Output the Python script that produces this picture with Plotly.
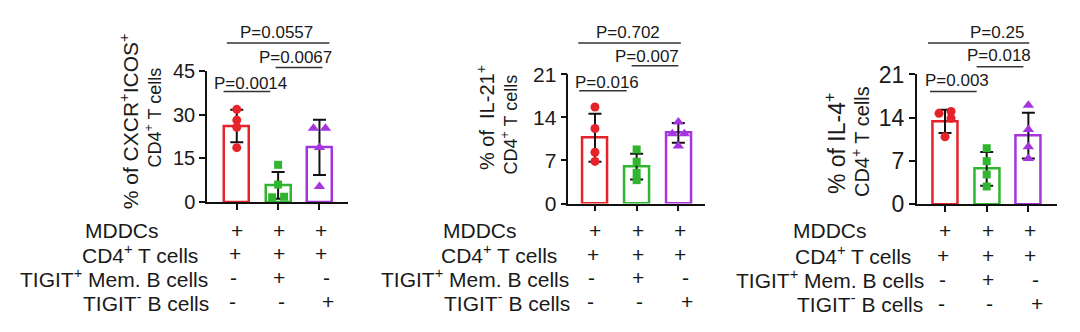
import plotly.graph_objects as go

W, H = 1080, 332

# ---------------- data ----------------
groups = ["Ctrl", "TIGIT+ Mem. B", "TIGIT- B"]

p1_points = [[31.9, 28.2, 25.7, 18.7], [12.8, 6.0, 1.8, 1.6], [25.4, 25.4, 18.8, 5.3]]
p1_mean = [26.2, 5.7, 18.8]
p1_sd = [5.6, 4.6, 9.5]

p2_points = [[15.7, 12.2, 8.35, 6.85], [8.8, 6.8, 5.0, 3.8], [13.25, 11.35, 11.35, 9.35]]
p2_mean = [10.7, 6.0, 11.5]
p2_sd = [3.9, 2.1, 1.6]

p3_points = [[15.0, 14.7, 13.9, 10.9], [9.05, 6.95, 4.8, 2.85], [16.0, 12.1, 9.3, 7.4]]
p3_mean = [13.4, 5.7, 11.1]
p3_sd = [1.9, 2.75, 3.7]

p1_ticks = [0, 15, 30, 45]
p2_ticks = [0, 7, 14, 21]
p3_ticks = [0, 7, 14, 21]

p1_title = ["% of CXCR<sup>+</sup>ICOS<sup>+</sup>", "CD4<sup>+</sup> T cells"]
p2_title = ["% of  IL-21<sup>+</sup>", "CD4<sup>+</sup> T cells"]
p3_title = ["% of IL-4<sup>+</sup>", "CD4<sup>+</sup> T cells"]

p1_pvals = ["P=0.0557", "P=0.0067", "P=0.0014"]
p2_pvals = ["P=0.702", "P=0.007", "P=0.016"]
p3_pvals = ["P=0.25", "P=0.018", "P=0.003"]

row_labels = ["MDDCs", "CD4<sup>+</sup> T cells", "TIGIT<sup>+</sup> Mem. B cells", "TIGIT<sup>-</sup> B cells"]
row_signs = [["+", "+", "+"], ["+", "+", "+"], ["-", "+", "-"], ["-", "-", "+"]]

# ---------------- styling / layout config ----------------
FONT = "Liberation Sans, Arial, sans-serif"
TXT = "#1a1a1a"
colors = ["#e5232a", "#2fb52f", "#a535dc"]
symbols = ["circle", "square", "triangle-up"]
msizes = [9, 8, 10]

panels = [
    dict(points=p1_points, mean=p1_mean, sd=p1_sd, ticks=p1_ticks, title=p1_title, pvals=p1_pvals,
         x0=207, x1=348, ytop=63.3, ybot=205, xr=(-0.72, 2.69), ymax=45, tsize=20,
         brackets=[(-0.24, 2.24, 54.8, 0.97, 11), (0.94, 2.07, 46.3, 1.41, 11), (-0.32, 0.81, 38.05, 0.32, 8.5)],
         titles=[(128.5, 118, 21), (153.5, 114, 18)],
         lab_off=[-46, -7, 3, 4], rows_y=[236, 261, 287, 313.5]),
    dict(points=p2_points, mean=p2_mean, sd=p2_sd, ticks=p2_ticks, title=p2_title, pvals=p2_pvals,
         x0=568.3, x1=705, ytop=66.7, ybot=206.7, xr=(-0.64, 2.64), ymax=21, tsize=21,
         brackets=[(-0.40, 2.06, 26.14, 0.80, 11.5), (0.88, 2.0, 22.4, 1.24, 10.5), (-0.38, 0.76, 18.35, 0.28, 9.5)],
         titles=[(485, 114, 20), (510.5, 121.5, 18)],
         lab_off=[-49, -9, 2.5, 3.5], rows_y=[236.5, 261.5, 287, 313.5]),
    dict(points=p3_points, mean=p3_mean, sd=p3_sd, ticks=p3_ticks, title=p3_title, pvals=p3_pvals,
         x0=916.7, x1=1056.7, ytop=66.7, ybot=207.3, xr=(-0.68, 2.68), ymax=21, tsize=23,
         brackets=[(-0.41, 2.02, 26.12, 1.24, 11.5), (0.76, 1.88, 22.24, 1.29, 12.5), (-0.36, 0.76, 18.25, 0.28, 12)],
         titles=[(834.5, 141.7, 23), (860, 140, 20)],
         lab_off=[-48, -4, 9, 8], rows_y=[236, 263, 289, 315]),
]
sign_shift = [[0, 1, 2], [-2, 1, 2], [-3, 1, 7], [-4, 3, 9]]


def swarm(vals, px_per_unit, step_px, thr=7.0, sep=12.0):
    """Cluster near-equal values and spread them horizontally (offsets in x units)."""
    order = sorted(range(len(vals)), key=lambda i: -vals[i])
    offs = [0.0] * len(vals)
    clusters, cur = [], [order[0]]
    for a, b in zip(order, order[1:]):
        if abs(vals[a] - vals[b]) * px_per_unit < thr:
            cur.append(b)
        else:
            clusters.append(cur)
            cur = [b]
    clusters.append(cur)
    for c in clusters:
        if len(c) > 1:
            for k, i in enumerate(c):
                offs[i] = (sep / 2 if k % 2 == 0 else -sep / 2) / step_px
    return offs


fig = go.Figure()
shapes, annots = [], []
layout_axes = {}

for n, P in enumerate(panels):
    sfx = "" if n == 0 else str(n + 1)
    xa, ya = "x" + sfx, "y" + sfx
    r0, r1 = P["xr"]
    step = (P["x1"] - P["x0"]) / (r1 - r0)
    ppu = (P["ybot"] - P["ytop"]) / P["ymax"]

    def xpx(v, P=P, r0=r0, step=step):
        return P["x0"] + (v - r0) * step

    def ypx(v, P=P, ppu=ppu):
        return P["ybot"] - v * ppu

    xs = list(range(len(groups)))
    fig.add_trace(go.Bar(
        x=xs, y=P["mean"], width=0.6, xaxis=xa, yaxis=ya,
        marker=dict(color="white", line=dict(color=colors, width=2.5)),
        error_y=dict(type="data", array=P["sd"], visible=True, color="#111111", thickness=2, width=6.5),
        showlegend=False, hoverinfo="skip"))
    for g in range(len(groups)):
        vals = P["points"][g]
        offs = swarm(vals, ppu, step)
        fig.add_trace(go.Scatter(
            x=[g + o for o in offs], y=vals, mode="markers", xaxis=xa, yaxis=ya,
            marker=dict(color=colors[g], symbol=symbols[g], size=msizes[g], line=dict(width=0)),
            showlegend=False, hoverinfo="skip", cliponaxis=False))

    layout_axes["xaxis" + sfx] = dict(
        domain=[P["x0"] / W, P["x1"] / W], range=list(P["xr"]), anchor=ya,
        tickvals=xs, showticklabels=False, ticks="outside", ticklen=6, tickwidth=1.5, tickcolor="#111",
        showline=True, linewidth=1.5, linecolor="#111", showgrid=False, zeroline=False, fixedrange=True)
    layout_axes["yaxis" + sfx] = dict(
        domain=[1 - P["ybot"] / H, 1 - P["ytop"] / H], range=[0, P["ymax"]], anchor=xa,
        tickvals=P["ticks"], ticks="outside", ticklen=6, tickwidth=1.5, tickcolor="#111",
        tickfont=dict(family=FONT, size=P["tsize"], color=TXT),
        showline=True, linewidth=1.5, linecolor="#111", showgrid=False, zeroline=False, fixedrange=True)

    # significance brackets
    for (bx0, bx1, by, tx, tsh), ptxt in zip(P["brackets"], P["pvals"]):
        shapes.append(dict(type="line", xref="paper", yref="paper",
                           x0=xpx(bx0) / W, x1=xpx(bx1) / W, y0=1 - ypx(by) / H, y1=1 - ypx(by) / H,
                           line=dict(color="#333333", width=1.5)))
        annots.append(dict(xref="paper", yref="paper", x=xpx(tx) / W, y=1 - (ypx(by) - tsh) / H,
                           text=ptxt, showarrow=False, xanchor="center", yanchor="middle",
                           font=dict(family=FONT, size=17, color=TXT)))

    # y titles (two rotated lines)
    for (cx, cy, fs), t in zip(P["titles"], P["title"]):
        annots.append(dict(xref="paper", yref="paper", x=cx / W, y=1 - cy / H, text=t,
                           textangle=-90, showarrow=False, xanchor="center", yanchor="middle",
                           font=dict(family=FONT, size=fs, color=TXT)))

    # condition table
    for r, lab in enumerate(row_labels):
        yy = 1 - P["rows_y"][r] / H
        annots.append(dict(xref="paper", yref="paper", x=(P["x0"] + P["lab_off"][r]) / W, y=yy,
                           text=lab, showarrow=False, xanchor="right", yanchor="middle",
                           font=dict(family=FONT, size=21, color=TXT)))
        for c, s in enumerate(row_signs[r]):
            annots.append(dict(xref="paper", yref="paper", x=(xpx(c) + sign_shift[r][c]) / W, y=yy,
                               text=s, showarrow=False, xanchor="center", yanchor="middle",
                               font=dict(family=FONT, size=21, color=TXT)))

fig.update_layout(
    width=W, height=H, margin=dict(l=0, r=0, t=0, b=0),
    paper_bgcolor="white", plot_bgcolor="white",
    shapes=shapes, annotations=annots, bargap=0, **layout_axes)

fig.write_html("out.html", config={"displayModeBar": False})
